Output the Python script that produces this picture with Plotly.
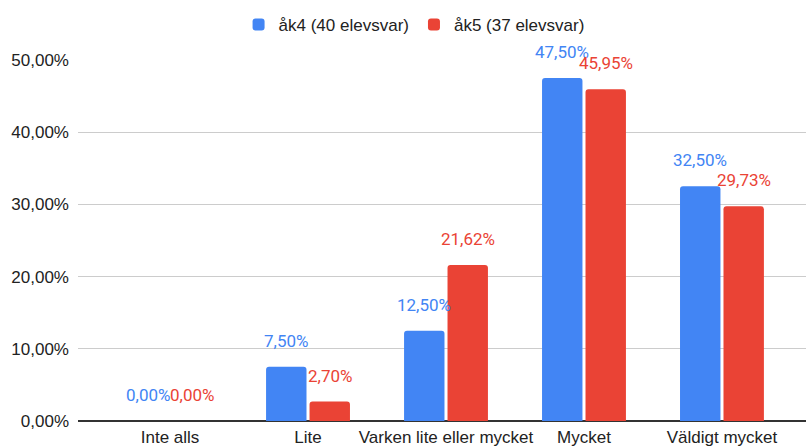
import plotly.graph_objects as go

categories = ["Inte alls", "Lite", "Varken lite eller mycket", "Mycket", "Väldigt mycket"]
series_names = ["åk4 (40 elevsvar)", "åk5 (37 elevsvar)"]
ak4_values = [0.0, 0.075, 0.125, 0.475, 0.325]
ak5_values = [0.0, 0.027, 0.2162, 0.4595, 0.2973]
y_ticks = [0, 0.1, 0.2, 0.3, 0.4, 0.5]

BLUE = "#4285F4"
RED = "#EA4335"

def fmt(v):
    return f"{v*100:.2f}%".replace(".", ",")

fig = go.Figure()
for name, vals, col in [(series_names[0], ak4_values, BLUE), (series_names[1], ak5_values, RED)]:
    fig.add_trace(go.Bar(
        x=list(range(len(categories))), y=vals, name=name,
        marker=dict(color=col, line=dict(width=0)),
        hoverinfo="skip",
    ))

annotations = []
for vals, col, dx in [(ak4_values, BLUE, -21.75), (ak5_values, RED, 21.75)]:
    for i, v in enumerate(vals):
        annotations.append(dict(
            x=i, y=v, xref="x", yref="y", text=fmt(v), showarrow=False,
            xshift=dx, yshift=26, yanchor="middle", xanchor="center",
            font=dict(family="Roboto", size=17, color=col),
        ))

fig.update_layout(
    width=806, height=448,
    margin=dict(l=78, r=0, t=60, b=27),
    paper_bgcolor="white", plot_bgcolor="white",
    barmode="group", bargap=0.37, bargroupgap=0.07, barcornerradius=3,
    separators=",.",
    annotations=annotations,
    showlegend=True,
    legend=dict(
        orientation="h", xref="container", yref="container",
        x=0.296, xanchor="left", y=1 - 25 / 448, yanchor="middle",
        font=dict(family="Liberation Sans", size=17, color="#222222"),
        bgcolor="rgba(0,0,0,0)",
    ),
    xaxis=dict(
        range=[-0.667, 4.609], tickmode="array",
        tickvals=list(range(len(categories))), ticktext=categories,
        showgrid=False, zeroline=False, showline=False, ticks="",
        ticklabelstandoff=4,
        tickfont=dict(family="Liberation Sans", size=17, color="#222222"),
        fixedrange=True,
    ),
    yaxis=dict(
        range=[0, 0.5], tickmode="array", tickvals=y_ticks,
        tickformat=".2%", showgrid=True, gridcolor="#cccccc", gridwidth=1,
        zeroline=True, zerolinecolor="#333333", zerolinewidth=1.5,
        ticks="", ticklabelstandoff=8,
        tickfont=dict(family="Liberation Sans", size=17, color="#222222"),
        fixedrange=True,
    ),
)

fig.write_html("out.html")
